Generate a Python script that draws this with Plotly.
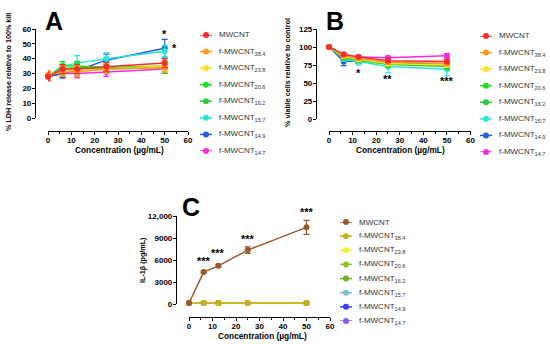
import plotly.graph_objects as go

W, H = 550, 344

# ---------------- data ----------------
conc = [0, 6.25, 12.5, 25, 50]
series_names = ["MWCNT", "f-MWCNT<sub>38.4</sub>", "f-MWCNT<sub>23.8</sub>", "f-MWCNT<sub>20.6</sub>",
                "f-MWCNT<sub>16.2</sub>", "f-MWCNT<sub>15.7</sub>", "f-MWCNT<sub>14.9</sub>", "f-MWCNT<sub>14.7</sub>"]
colors_ab = ["#FF2A2A", "#FF9A1F", "#FFE11F", "#1FE01F", "#2ACC3A", "#2AE6D6", "#1F5FE0", "#FF2AE6"]
colors_c = ["#9C5A2C", "#C4AE26", "#F0F030", "#8CC026", "#6CB02A", "#7EC2D2", "#3A3AF0", "#8A5CE6"]

ldh_mean = [[28, 33, 33, 34.5, 37], [29, 31, 31, 33, 34], [29, 32, 32, 33, 35], [28, 35, 35, 34, 35],
            [28, 33, 34, 33, 34], [28, 35, 37, 40, 45], [28, 30, 32, 39, 47], [28, 30, 30, 31, 33]]
ldh_err = [[3, 3, 3, 3, 3], [3, 3, 3, 3, 3], [3, 3, 3, 3, 3], [2, 3, 3, 3, 4],
           [2, 3, 3, 3, 4], [2, 3, 5, 4, 4], [2, 3, 3, 4, 6], [2, 3, 3, 3, 3]]

viab_mean = [[100, 90, 86, 81, 80], [100, 88, 84, 79, 77], [100, 87, 83, 77, 75], [100, 86, 82, 76, 74],
             [100, 85, 82, 76, 73], [100, 84, 80, 73, 69], [100, 80, 81, 78, 76], [100, 83, 86, 85, 88]]
viab_err = [[1, 2, 2, 2, 3], [1, 2, 2, 3, 3], [1, 2, 3, 3, 3], [1, 3, 3, 4, 4],
            [1, 3, 3, 4, 4], [1, 4, 5, 9, 9], [1, 6, 4, 4, 4], [1, 3, 2, 2, 3]]

il_mean = [[150, 4350, 5200, 7350, 10450], [150, 150, 150, 150, 150], [150, 150, 150, 150, 150],
           [150, 150, 150, 150, 150], [150, 150, 150, 150, 150], [150, 150, 150, 150, 150],
           [150, 150, 150, 150, 150], [150, 150, 150, 150, 150]]
il_err = [[50, 150, 200, 450, 950], [30, 30, 30, 30, 30], [30, 30, 30, 30, 30], [30, 30, 30, 30, 30],
          [30, 30, 30, 30, 30], [30, 30, 30, 30, 30], [30, 30, 30, 30, 30], [30, 30, 30, 30, 30]]

x_ticks = [0, 10, 20, 30, 40, 50, 60]
ldh_ticks = [0, 10, 20, 30, 40, 50, 60]
viab_ticks = [0, 25, 50, 75, 100, 125]
il_ticks = [0, 3000, 6000, 9000, 12000]
il_ticktext = ["0", "3000", "6000", "9000", "12,000"]

ldh_stars = [(50, 56.5, "*"), (54, 47, "*")]
viab_stars = [(12.5, 64, "*"), (25, 55, "**"), (50, 53, "***")]
il_stars = [(6.25, 5800, "***"), (12.5, 6900, "***"), (25, 8900, "***"), (50, 12600, "***")]

# ---------------- helpers ----------------
def px(x):
    return x / W

def py(y):
    return 1 - y / H

FONT = "Liberation Sans, Arial, sans-serif"
tickfont = dict(family=FONT, size=8, color="black", weight="bold")

fig = go.Figure()

panels = [
    ("x", "y", ldh_mean, ldh_err, colors_ab),
    ("x2", "y2", viab_mean, viab_err, colors_ab),
    ("x3", "y3", il_mean, il_err, colors_c),
]
for xa, ya, means, errs, cols in panels:
    for i in reversed(range(len(series_names))):
        fig.add_trace(go.Scatter(
            x=conc, y=means[i], xaxis=xa, yaxis=ya, mode="lines+markers",
            line=dict(color=cols[i], width=1.5),
            marker=dict(color=cols[i], size=6),
            error_y=dict(type="data", array=errs[i], color=cols[i], thickness=1.2, width=3),
            cliponaxis=False, showlegend=False, name=series_names[i]))

# ---------------- manual legends ----------------
legend_specs = [
    ("x4", "y4", colors_ab, 200, 212, 35, 151, 217),
    ("x5", "y5", colors_ab, 480, 492, 36, 152, 497),
    ("x6", "y6", colors_c, 340, 352, 222, 321, 357),
]
annotations = []
for xa, ya, cols, lx0, lx1, ly0, ly1, tx in legend_specs:
    n = len(series_names)
    for i in range(n):
        fig.add_trace(go.Scatter(x=[0, 1], y=[i, i], xaxis=xa, yaxis=ya, mode="lines",
                                 line=dict(color=cols[i], width=1.5), showlegend=False, hoverinfo="skip"))
        fig.add_trace(go.Scatter(x=[0.5], y=[i], xaxis=xa, yaxis=ya, mode="markers",
                                 marker=dict(color=cols[i], size=6), cliponaxis=False,
                                 showlegend=False, hoverinfo="skip"))
        annotations.append(dict(x=px(tx), xref="paper", y=i, yref=ya, text=series_names[i],
                                showarrow=False, xanchor="left", yanchor="middle",
                                font=dict(family=FONT, size=8, color="#333")))

def xaxis_cfg(d0, d1, pos):
    return dict(domain=[px(d0), px(d1)], range=[0, 60], anchor="free", position=py(pos),
                tickvals=x_ticks, ticks="outside", ticklen=3, tickwidth=1, tickcolor="black",
                showline=True, linecolor="black", linewidth=1.2, showgrid=False, zeroline=False,
                tickfont=tickfont, automargin=False, ticklabelstandoff=-2,
                minor=dict(ticks="outside", ticklen=2, tickwidth=1,
                           tickcolor="black", dtick=5, tick0=0, showgrid=False))

def yaxis_cfg(d_bottom, d_top, pos, rng, tv, tt=None):
    cfg = dict(domain=[py(d_bottom), py(d_top)], range=rng, anchor="free", position=px(pos),
               tickvals=tv, ticks="outside", ticklen=3, tickwidth=1, tickcolor="black",
               showline=True, linecolor="black", linewidth=1.2, showgrid=False, zeroline=False,
               tickfont=tickfont, automargin=False, ticklabelstandoff=-1)
    if tt:
        cfg["ticktext"] = tt
    return cfg

def hidden_x(d0, d1):
    return dict(domain=[px(d0), px(d1)], range=[0, 1], visible=False, fixedrange=True)

def hidden_y(top, bottom):
    return dict(domain=[py(bottom), py(top)], range=[7, 0], visible=False, fixedrange=True)

layout_axes = dict(
    xaxis=xaxis_cfg(48, 188, 131),
    yaxis=yaxis_cfg(118, 29, 35, [0, 60], ldh_ticks),
    xaxis2=xaxis_cfg(329, 470.5, 131),
    yaxis2=yaxis_cfg(119, 29, 316, [0, 125], viab_ticks),
    xaxis3=xaxis_cfg(189, 330, 317),
    yaxis3=yaxis_cfg(304, 216, 176, [0, 12000], il_ticks, il_ticktext),
    xaxis4=hidden_x(200, 212), yaxis4=hidden_y(35, 151),
    xaxis5=hidden_x(480, 492), yaxis5=hidden_y(36, 152),
    xaxis6=hidden_x(340, 352), yaxis6=hidden_y(222, 321),
)

fig.update_layout(
    width=W, height=H, autosize=False,
    margin=dict(l=0, r=0, t=0, b=0, pad=0, autoexpand=False),
    paper_bgcolor="white", plot_bgcolor="white",
    showlegend=False,
    **layout_axes,
)

def data_to_paper_y(axname, v):
    ax = layout_axes[axname]
    d0, d1 = ax["domain"]
    r0, r1 = ax["range"]
    return d0 + (v - r0) / (r1 - r0) * (d1 - d0)

# stars (x in data units, y converted to paper so values above the axis top stay visible)
for xa, yname, stars in [("x", "yaxis", ldh_stars), ("x2", "yaxis2", viab_stars), ("x3", "yaxis3", il_stars)]:
    for sx, sy, s in stars:
        annotations.append(dict(x=sx, y=data_to_paper_y(yname, sy), xref=xa, yref="paper", text=s,
                                showarrow=False, xanchor="center", yanchor="middle",
                                font=dict(family=FONT, size=11, color="black", weight="bold")))

# panel letters
for lx, ly, t in [(54, 21, "A"), (335, 21, "B"), (191, 207, "C")]:
    annotations.append(dict(x=px(lx), y=py(ly), xref="paper", yref="paper", text=t, showarrow=False,
                            xanchor="center", yanchor="middle",
                            font=dict(family=FONT, size=25, color="black", weight="bold")))

# axis titles
for tx, ty, t in [(8, 72, "% LDH release relative to 100% kill"),
                  (288, 73, "% viable cells relative to control"),
                  (142, 260, "IL-1β (pg/mL)")]:
    annotations.append(dict(x=px(tx), y=py(ty), xref="paper", yref="paper", text=t, showarrow=False,
                            xanchor="center", yanchor="middle", textangle=-90,
                            font=dict(family=FONT, size=7.2, color="black", weight="bold")))
for tx, ty in [(119, 150), (400, 150), (262, 336)]:
    annotations.append(dict(x=px(tx), y=py(ty), xref="paper", yref="paper", text="Concentration (µg/mL)",
                            showarrow=False, xanchor="center", yanchor="middle",
                            font=dict(family=FONT, size=8.3, color="black", weight="bold")))

fig.update_layout(annotations=annotations)
fig.write_html("out.html", config={"displayModeBar": False},
               post_script="document.body.style.margin='0';document.body.style.overflow='hidden';")
